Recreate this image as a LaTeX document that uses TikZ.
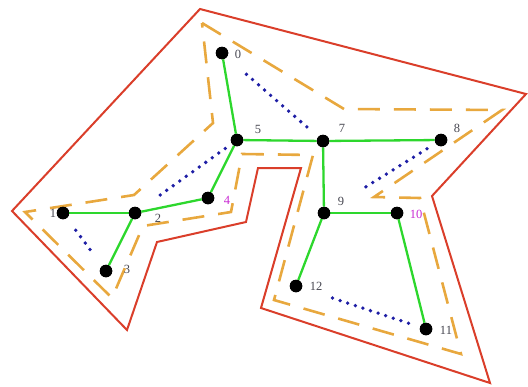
\documentclass[tikz,border=0pt]{standalone}
\usepackage{fontspec}
\setmainfont{Liberation Serif}
\definecolor{redc}{RGB}{218,62,42}
\definecolor{greenc}{RGB}{45,215,45}
\definecolor{orangec}{RGB}{232,168,62}
\definecolor{bluec}{RGB}{30,30,165}
\definecolor{labc}{RGB}{70,70,80}
\definecolor{magc}{RGB}{200,40,210}
\begin{document}
\begin{tikzpicture}[x=1pt,y=-1pt,
  dot/.style={circle,fill=black,inner sep=0pt,minimum size=12.5pt},
  lab/.style={text=labc,inner sep=0pt,font=\fontsize{12.5}{12.5}\selectfont},
  maglab/.style={lab,text=magc},
  outerline/.style={draw=redc,line width=2pt,line join=miter},
  offsetline/.style={draw=orangec,line width=2.6pt,dash pattern=on 22pt off 14pt},
  treeedge/.style={draw=greenc,line width=2.3pt},
  dotedge/.style={draw=bluec,line width=3.8pt,line cap=round,dash pattern=on 0pt off 8pt}]
\useasboundingbox (0,0) rectangle (528,386);
% outer red polygon
\draw[outerline] (200,9) -- (526,94) -- (432,196) -- (490,383) -- (261,308)
  -- (301,168) -- (258,168) -- (246,222) -- (157,242) -- (127,330) -- (12,211) -- cycle;
% orange dashed polygon
\draw[offsetline] (202,23) -- (344,109) -- (502,110) -- (374,197) -- (420,198)
  -- (461,354) -- (274,300) -- (313,155) -- (242,154) -- (231,212) -- (143,226)
  -- (112,298) -- (25,212) -- (134,195) -- (213,123) -- cycle;
% nodes
\node[dot] (n0) at (222,53) {};
\node[dot] (n1) at (63,213) {};
\node[dot] (n2) at (135,213) {};
\node[dot] (n3) at (106,271) {};
\node[dot] (n4) at (208,198) {};
\node[dot] (n5) at (237,140) {};
\node[dot] (n7) at (323,141) {};
\node[dot] (n8) at (441,140) {};
\node[dot] (n9) at (324,213) {};
\node[dot] (n10) at (397,213) {};
\node[dot] (n11) at (426,329) {};
\node[dot] (n12) at (296,286) {};
% dotted connectors
\draw[dotedge,shorten <=26pt,shorten >=15pt] (n0) -- (n7);
\draw[dotedge,shorten <=8pt,shorten >=20pt] (n5) -- (n2);
\draw[dotedge,shorten <=15pt,shorten >=13pt] (n1) -- (n3);
\draw[dotedge,shorten <=10pt,shorten >=42pt] (n8) -- (n9);
\draw[dotedge,shorten <=32pt,shorten >=8pt] (n12) -- (n11);
% green tree
\draw[treeedge] (n0) -- (n5);
\draw[treeedge] (n5) -- (n7);
\draw[treeedge] (n7) -- (n8);
\draw[treeedge] (n5) -- (n4);
\draw[treeedge] (n4) -- (n2);
\draw[treeedge] (n2) -- (n1);
\draw[treeedge] (n2) -- (n3);
\draw[treeedge] (n7) -- (n9);
\draw[treeedge] (n9) -- (n10);
\draw[treeedge] (n9) -- (n12);
\draw[treeedge] (n10) -- (n11);
% redraw dots on top
\foreach \n in {n0,n1,n2,n3,n4,n5,n7,n8,n9,n10,n11,n12} \fill (\n) circle (6.25pt);
% labels
\node[lab] (l0) at (238,54) {0};
\node[lab] (l1) at (53,213) {1};
\node[lab] (l2) at (158,218) {2};
\node[lab] (l3) at (127,269) {3};
\node[maglab] (l4) at (227,200) {4};
\node[lab] (l5) at (258,129) {5};
\node[lab] (l7) at (342,128) {7};
\node[lab] (l8) at (457,128) {8};
\node[lab] (l9) at (341,201) {9};
\node[maglab] (l10) at (416,214) {10};
\node[lab] (l11) at (446,330) {11};
\node[lab] (l12) at (316,286) {12};
\end{tikzpicture}
\end{document}
